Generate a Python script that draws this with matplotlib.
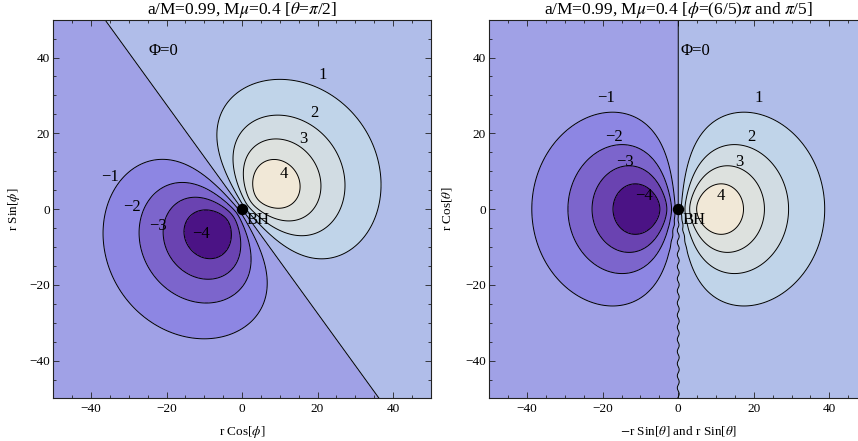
import numpy as np
import matplotlib
matplotlib.use("Agg")
import matplotlib.pyplot as plt
from matplotlib.ticker import MultipleLocator

plt.rcParams['font.family'] = ['Liberation Serif', 'DejaVu Serif']
plt.rcParams['mathtext.fontset'] = 'stix'
plt.rcParams['axes.unicode_minus'] = True

# l = m = 1 scalar cloud, Phi ~ A * r cos(phi - phi0) * exp(-r / r0)
amplitude = 1.35
radial_scale = 9.8
dipole_angle_left = np.pi / 5      # equatorial cut: lobes lie along phi = pi/5
dipole_angle_right = 0.0           # meridional cut through phi = pi/5 and 6pi/5
# small numerical seam on the z < 0 half of the meridional cut
seam_amp = 0.25
seam_period = 3.2

levels = [-4, -3, -2, -1, 0, 1, 2, 3, 4]
band_colors = ['#4b1385', '#6a43b1', '#7c65cc', '#8d86e3', '#a0a1e6',
               '#b0bde9', '#c0d4e9', '#d1dce3', '#dde1de', '#f1e8d7']

label_text = ['\u22124', '\u22123', '\u22122', '\u22121', '1', '2', '3', '4']
label_pos_left = [(-10.9, -6.6), (-22.2, -4.4), (-29.2, 0.6), (-35.1, 8.4),
                  (21.3, 35.4), (19.1, 25.4), (16.2, 18.4), (11.1, 9.2)]
label_pos_right = [(-9.1, 3.4), (-14.1, 12.5), (-17.1, 19.1), (-19.2, 29.2),
                   (21.3, 29.2), (19.3, 19.1), (16.1, 12.5), (11.2, 3.4)]

extent = 50
grid = np.linspace(-extent, extent, 1000)
X, Y = np.meshgrid(grid, grid)


def cloud(x, y, angle, seam=False):
    r = np.hypot(x, y)
    u = x * np.cos(angle) + y * np.sin(angle)
    if seam:
        ramp = np.clip((-y - 2.0) / 3.0, 0, 1)
        u = u + seam_amp * np.sin(2 * np.pi * y / seam_period) * np.exp(-(x / 1.5) ** 2) * ramp
    return amplitude * u * np.exp(-r / radial_scale)


fig = plt.figure(figsize=(8.58, 4.41), dpi=100)
ax1 = fig.add_axes([0.0621, 0.0964, 0.44, 0.859])
ax2 = fig.add_axes([0.5705, 0.0964, 0.44, 0.859])

panels = [
    (ax1, cloud(X, Y, dipole_angle_left), label_pos_left,
     'a/M=0.99, M$\\mu$=0.4 [$\\theta$=$\\pi$/2]',
     'r Cos[$\\phi$]', 'r Sin[$\\phi$]', (-24.9, 41.6), 5),
    (ax2, cloud(X, Y, dipole_angle_right, seam=True), label_pos_right,
     'a/M=0.99, M$\\mu$=0.4 [$\\phi$=(6/5)$\\pi$ and $\\pi$/5]',
     '$-$r Sin[$\\theta$] and r Sin[$\\theta$]', 'r Cos[$\\theta$]', (0.6, 41.6), 8),
]

for ax, F, lpos, title, xl, yl, phi_pos, ypad in panels:
    ax.contourf(X, Y, F, levels=[-100] + levels + [100], colors=band_colors)
    ax.contour(X, Y, F, levels=levels, colors='black', linewidths=0.7,
               linestyles='solid')
    for txt, (lx, ly) in zip(label_text, lpos):
        ax.text(lx, ly, txt, fontsize=12, ha='center', va='center')
    ax.text(phi_pos[0], phi_pos[1], '\u03a6=0', fontsize=12, ha='left', va='center')
    ax.plot([0], [0], 'o', color='black', markersize=7.2)
    ax.text(1.1, -2.8, 'BH', fontsize=12, ha='left', va='center')
    ax.set_xlim(-extent, extent)
    ax.set_ylim(-extent, extent)
    ax.xaxis.set_major_locator(MultipleLocator(20))
    ax.yaxis.set_major_locator(MultipleLocator(20))
    ax.xaxis.set_minor_locator(MultipleLocator(5))
    ax.yaxis.set_minor_locator(MultipleLocator(5))
    ax.tick_params(which='both', direction='in', top=True, right=True,
                   labelsize=9.5, width=0.6, color='#222222')
    ax.tick_params(which='major', length=4, pad=3.5)
    ax.tick_params(which='minor', length=2)
    ax.tick_params(axis='y', which='major', pad=2.5)
    for s in ax.spines.values():
        s.set_linewidth(0.8)
        s.set_color('#222222')
    ax.set_title(title, fontsize=12.5, pad=2.5)
    ax.set_xlabel(xl, fontsize=9.5, labelpad=6)
    ax.set_ylabel(yl, fontsize=9.5, labelpad=ypad)

fig.savefig('out.png', dpi=100)
